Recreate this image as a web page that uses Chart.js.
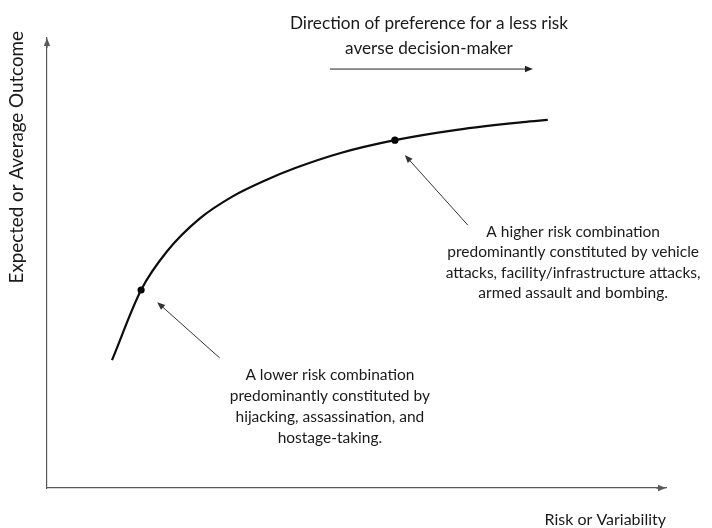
<!DOCTYPE html>
<html>
<head>
<meta charset="utf-8">
<script src="https://cdn.jsdelivr.net/npm/chart.js@4/dist/chart.umd.min.js"></script>
<style>
  html, body { margin: 0; padding: 0; background: #ffffff; }
  #wrap { width: 712px; height: 528px; position: relative; }
</style>
</head>
<body>
<div id="wrap"><canvas id="c"></canvas></div>
<script>
// ---- Data (axis units 0..100) ----
const curveX = [10.5, 15.2, 19.4, 24.7, 30.0, 35.5, 40.1, 47.3, 56.2, 66.2, 76.9, 80.9];
const curveY = [28.4, 44.0, 52.6, 59.9, 64.8, 68.5, 71.1, 74.4, 77.3, 79.6, 81.3, 81.8];

const markerX = [15.2, 56.2];
const markerY = [44.0, 77.3];

const xTitle = "Risk or Variability";
const yTitle = "Expected or Average Outcome";

const directionLines = ["Direction of preference for a less risk", "averse decision-maker"];
const lowLines = ["A lower risk combination", "predominantly constituted by", "hijacking, assassination, and", "hostage-taking."];
const highLines = ["A higher risk combination", "predominantly constituted by vehicle", "attacks, facility/infrastructure attacks,", "armed assault and bombing."];

// annotation anchors (data units): [x, y]
const directionTextAt = [61.7, 103.3];
const lowTextAt = [45.7, 25.1];
const highTextAt = [85.0, 56.9];
const xTitleAt = [100, -7.1];
const yTitleAt = [-4.8, 73.5];

// annotation arrows (data units): [tailX, tailY, tipX, tipY]
const directionArrow = [45.7, 93.1, 78.5, 93.1];
const lowArrow = [27.9, 28.9, 17.8, 41.3];
const highArrow = [68.0, 58.4, 57.8, 74.0];

const FONT = "Lato, 'Open Sans', sans-serif";
const TEXT_COLOR = "#1a1a1a";
const AXIS_COLOR = "#5a5a5a";

function drawArrow(ctx, x0, y0, x1, y1, color, width, headLen, headW) {
  const ang = Math.atan2(y1 - y0, x1 - x0);
  ctx.save();
  ctx.strokeStyle = color; ctx.fillStyle = color; ctx.lineWidth = width;
  ctx.beginPath();
  ctx.moveTo(x0, y0);
  ctx.lineTo(x1 - Math.cos(ang) * headLen * 0.6, y1 - Math.sin(ang) * headLen * 0.6);
  ctx.stroke();
  ctx.beginPath();
  ctx.moveTo(x1, y1);
  ctx.lineTo(x1 - Math.cos(ang) * headLen + Math.sin(ang) * headW, y1 - Math.sin(ang) * headLen - Math.cos(ang) * headW);
  ctx.lineTo(x1 - Math.cos(ang) * headLen - Math.sin(ang) * headW, y1 - Math.sin(ang) * headLen + Math.cos(ang) * headW);
  ctx.closePath();
  ctx.fill();
  ctx.restore();
}

const annotationPlugin = {
  id: 'annotations',
  afterDraw(chart) {
    const ctx = chart.ctx;
    const xs = chart.scales.x, ys = chart.scales.y;
    const px = v => xs.getPixelForValue(v);
    const py = v => ys.getPixelForValue(v);
    const area = chart.chartArea;

    // axis arrowheads
    drawArrow(ctx, area.right - 10, area.bottom, area.right, area.bottom, AXIS_COLOR, 1.2, 8, 3.2);
    drawArrow(ctx, area.left, area.top + 10, area.left, area.top, AXIS_COLOR, 1.2, 8, 3.2);

    // annotation arrows
    drawArrow(ctx, px(directionArrow[0]), py(directionArrow[1]), px(directionArrow[2]), py(directionArrow[3]), "#222", 1, 8, 3.2);
    drawArrow(ctx, px(lowArrow[0]), py(lowArrow[1]), px(lowArrow[2]), py(lowArrow[3]), "#333", 1, 8, 3.2);
    drawArrow(ctx, px(highArrow[0]), py(highArrow[1]), px(highArrow[2]), py(highArrow[3]), "#333", 1, 8, 3.2);

    ctx.save();
    ctx.fillStyle = TEXT_COLOR;
    ctx.textAlign = 'center';
    ctx.textBaseline = 'middle';

    ctx.font = "17.2px " + FONT;
    directionLines.forEach((t, i) => ctx.fillText(t, px(directionTextAt[0]), py(directionTextAt[1]) + i * 25));

    ctx.font = "15.5px " + FONT;
    lowLines.forEach((t, i) => ctx.fillText(t, px(lowTextAt[0]), py(lowTextAt[1]) + i * 21));
    highLines.forEach((t, i) => ctx.fillText(t, px(highTextAt[0]), py(highTextAt[1]) + i * 20.5));

    // axis titles
    ctx.font = "16px " + FONT;
    ctx.textAlign = 'right';
    ctx.fillText(xTitle, px(xTitleAt[0]), py(xTitleAt[1]));

    ctx.font = "18.8px " + FONT;
    ctx.textAlign = 'center';
    ctx.translate(px(yTitleAt[0]), py(yTitleAt[1]));
    ctx.rotate(-Math.PI / 2);
    ctx.fillText(yTitle, 0, 0);
    ctx.restore();
  }
};

const curveData = curveX.map((x, i) => ({ x: x, y: curveY[i] }));
const markerData = markerX.map((x, i) => ({ x: x, y: markerY[i] }));

new Chart(document.getElementById('c'), {
  type: 'scatter',
  data: {
    datasets: [
      {
        type: 'line',
        data: curveData,
        borderColor: '#0d0d0d',
        borderWidth: 2.2,
        pointRadius: 0,
        cubicInterpolationMode: 'monotone',
        fill: false
      },
      {
        data: markerData,
        backgroundColor: '#000',
        borderColor: '#000',
        pointRadius: 3.6,
        borderWidth: 0
      }
    ]
  },
  options: {
    responsive: true,
    maintainAspectRatio: false,
    animation: false,
    events: [],
    layout: { padding: { left: 47, top: 38, right: 46, bottom: 40 } },
    plugins: { legend: { display: false }, tooltip: { enabled: false } },
    scales: {
      x: {
        type: 'linear', min: 0, max: 100,
        grid: { display: false, drawTicks: false },
        ticks: { display: false },
        border: { display: true, color: AXIS_COLOR, width: 1.2 }
      },
      y: {
        type: 'linear', min: 0, max: 100,
        grid: { display: false, drawTicks: false },
        ticks: { display: false },
        border: { display: true, color: AXIS_COLOR, width: 1.2 }
      }
    }
  },
  plugins: [annotationPlugin]
});
</script>
</body>
</html>
